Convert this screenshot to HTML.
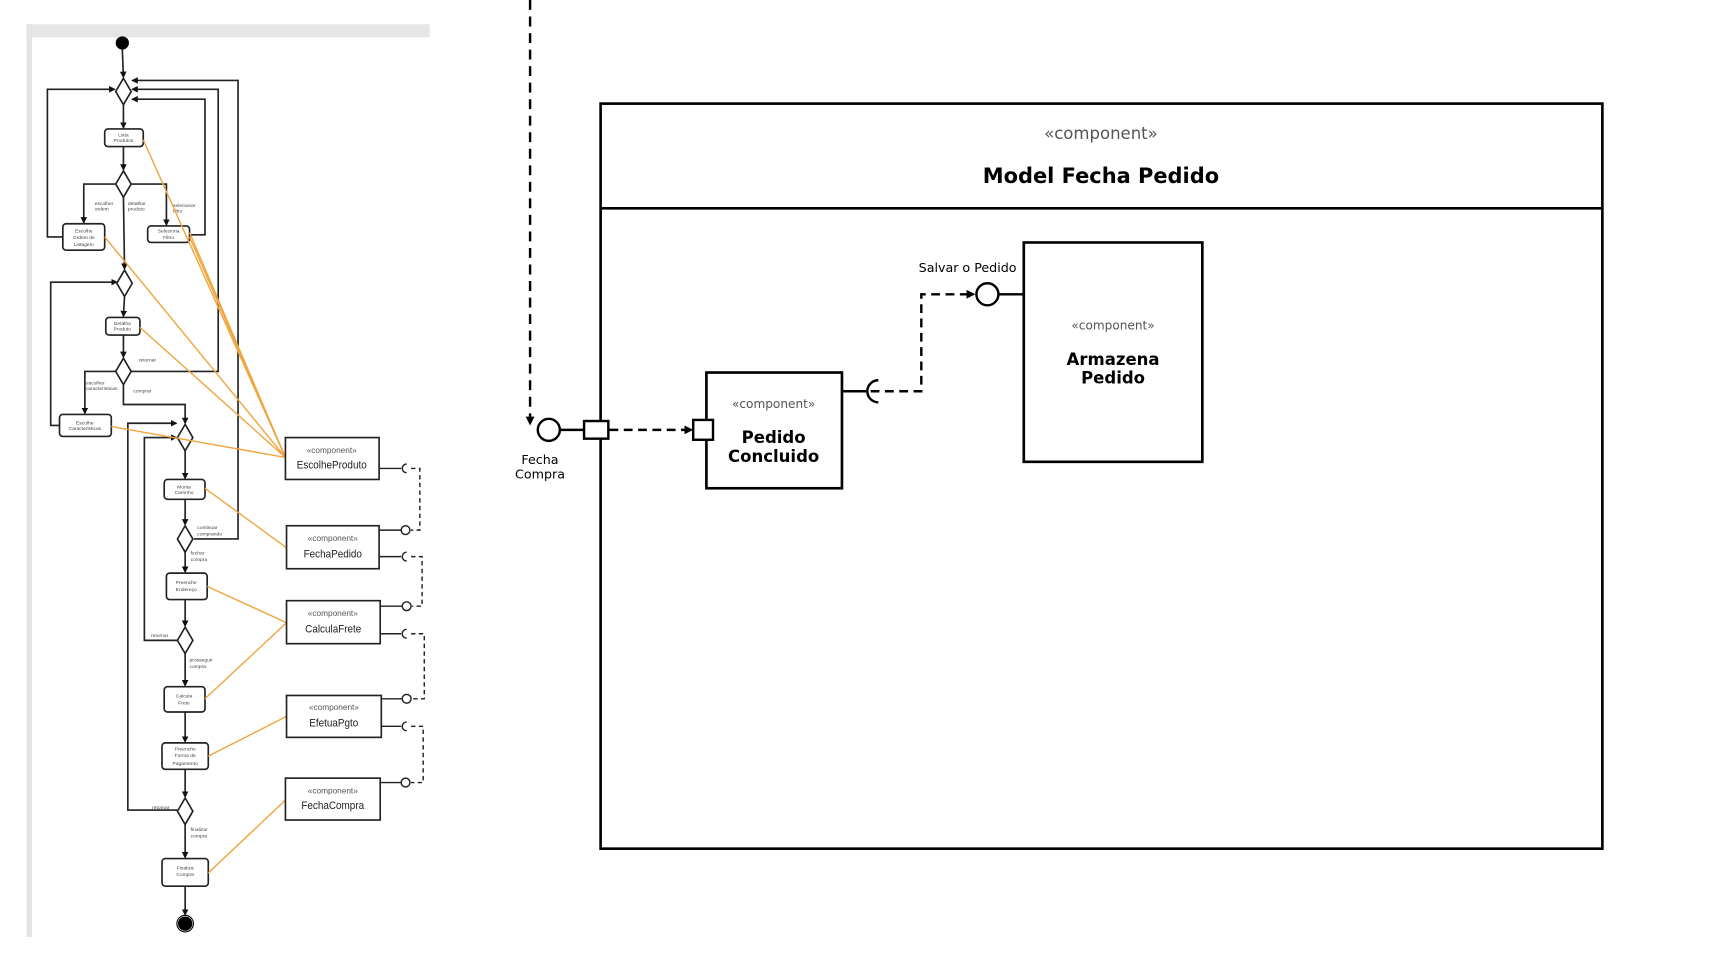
<!DOCTYPE html>
<html><head><meta charset="utf-8"><style>html,body{margin:0;padding:0;background:#fff;width:1728px;height:960px;overflow:hidden}svg{display:block}</style></head><body>
<svg width="1728" height="960" viewBox="0 0 1568 871" preserveAspectRatio="none" xmlns="http://www.w3.org/2000/svg" font-family="Liberation Sans, sans-serif">
<defs>
<marker id="a" markerWidth="8" markerHeight="8" refX="7" refY="4" orient="auto" markerUnits="userSpaceOnUse"><path d="M0,0 L8,4 L0,8z" fill="#000"/></marker>
<marker id="s" markerWidth="6" markerHeight="6" refX="5" refY="3" orient="auto" markerUnits="userSpaceOnUse"><path d="M0,0 L6,3 L0,6z" fill="#111"/></marker>
</defs>
<rect x="24" y="22" width="366" height="12" fill="#e6e6e6"/>
<rect x="24" y="22" width="5" height="828" fill="#e3e3e3"/>
<g stroke="#222" stroke-width="1.5" fill="none">
<line x1="111" y1="45" x2="112" y2="70" marker-end="url(#s)"/>
<line x1="112" y1="95" x2="112" y2="116" marker-end="url(#s)"/>
<line x1="112" y1="133" x2="112" y2="154" marker-end="url(#s)"/>
<line x1="112" y1="179" x2="113" y2="244" marker-end="url(#s)"/>
<line x1="113" y1="269" x2="112" y2="287" marker-end="url(#s)"/>
<line x1="112" y1="304" x2="112" y2="324" marker-end="url(#s)"/>
<polyline points="112,349 112,367 168,367 168,384" marker-end="url(#s)"/>
<line x1="168" y1="409" x2="168" y2="434" marker-end="url(#s)"/>
<line x1="168" y1="453" x2="168" y2="476" marker-end="url(#s)"/>
<line x1="168" y1="501" x2="168" y2="519" marker-end="url(#s)"/>
<line x1="168" y1="544" x2="168" y2="568" marker-end="url(#s)"/>
<line x1="168" y1="593" x2="168" y2="622" marker-end="url(#s)"/>
<line x1="168" y1="646" x2="168" y2="673" marker-end="url(#s)"/>
<line x1="168" y1="698" x2="168" y2="723" marker-end="url(#s)"/>
<line x1="168" y1="748" x2="168" y2="778" marker-end="url(#s)"/>
<line x1="168" y1="804" x2="168" y2="830" marker-end="url(#s)"/>
<polyline points="105,167 76,167 76,202" marker-end="url(#s)"/>
<polyline points="119,167 151,167 151,204" marker-end="url(#s)"/>
<polyline points="105,337 77,337 77,375" marker-end="url(#s)"/>
<polyline points="57,215 43,215 43,81 104,81" marker-end="url(#s)"/>
<polyline points="172,213 186,213 186,90 120,90" marker-end="url(#s)"/>
<polyline points="119,337 198,337 198,81 120,81" marker-end="url(#s)"/>
<polyline points="176,489 216,489 216,73 120,73" marker-end="url(#s)"/>
<polyline points="54,386 46,386 46,256 106,256" marker-end="url(#s)"/>
<polyline points="161,581 131,581 131,397 160,397" marker-end="url(#s)"/>
<polyline points="161,735 116,735 116,384 160,384" marker-end="url(#s)"/>
</g>
<circle cx="111" cy="39" r="6" fill="#000"/>
<circle cx="168" cy="838" r="6" fill="#000" stroke="#000" stroke-width="1"/><circle cx="168" cy="838" r="7.5" fill="none" stroke="#000" stroke-width="1"/>
<g fill="#fff" stroke="#222" stroke-width="1.5">
<path d="M112,71 L119,83 L112,95 L105,83z"/>
<path d="M112,155 L119,167 L112,179 L105,167z"/>
<path d="M113,245 L120,257 L113,269 L106,257z"/>
<path d="M112,325 L119,337 L112,349 L105,337z"/>
<path d="M168,385 L175,397 L168,409 L161,397z"/>
<path d="M168,477 L175,489 L168,501 L161,489z"/>
<path d="M168,569 L175,581 L168,593 L161,581z"/>
<path d="M168,724 L175,736 L168,748 L161,736z"/>
<rect x="95" y="117" width="35" height="16" rx="3"/>
<rect x="57" y="203" width="38" height="24" rx="3"/>
<rect x="134" y="205" width="38" height="15" rx="3"/>
<rect x="96" y="288" width="31" height="16" rx="3"/>
<rect x="54" y="376" width="47" height="20" rx="3"/>
<rect x="149" y="435" width="37" height="18" rx="3"/>
<rect x="151" y="520" width="37" height="24" rx="3"/>
<rect x="149" y="623" width="37" height="23" rx="3"/>
<rect x="147" y="674" width="42" height="24" rx="3"/>
<rect x="147" y="779" width="42" height="25" rx="3"/>
</g>
<g font-size="4.5" fill="#444" text-anchor="middle">
<text x="112" y="124">Lista</text><text x="112" y="129">Produtos</text>
<text x="76" y="211">Escolhe</text><text x="76" y="217">Ordem de</text><text x="76" y="223">Listagem</text>
<text x="153" y="211">Seleciona</text><text x="153" y="217">Filtro</text>
<text x="111" y="295">Detalha</text><text x="111" y="300">Produto</text>
<text x="77" y="385">Escolhe</text><text x="77" y="390">Caracteristicas</text>
<text x="167" y="443">Monta</text><text x="167" y="448">Carrinho</text>
<text x="169" y="530">Preenche</text><text x="169" y="536">Endereço</text>
<text x="167" y="633">Calcula</text><text x="167" y="639">Frete</text>
<text x="168" y="681">Preenche</text><text x="168" y="687">Forma de</text><text x="168" y="694">Pagamento</text>
<text x="168" y="789">Finaliza</text><text x="168" y="795">Compra</text>
</g>
<g font-size="4.5" fill="#444">
<text x="86" y="186">escolher</text><text x="86" y="191">ordem</text>
<text x="116" y="186">detalhar</text><text x="116" y="191">produto</text>
<text x="157" y="188">selecionar</text><text x="157" y="193">filtro</text>
<text x="126" y="328">retornar</text>
<text x="78" y="349">escolher</text><text x="78" y="354">caracteristicas</text>
<text x="121" y="356">comprar</text>
<text x="179" y="480">continuar</text><text x="179" y="486">comprando</text>
<text x="173" y="503">fechar</text><text x="173" y="509">compra</text>
<text x="137" y="578">retornar</text>
<text x="172" y="600">prosseguir</text><text x="172" y="606">compra</text>
<text x="138" y="734">retornar</text>
<text x="173" y="754">finalizar</text><text x="173" y="760">compra</text>
</g>
<g stroke="#f0a640" stroke-width="1.3" fill="none">
<line x1="130" y1="127" x2="259" y2="415"/>
<line x1="95" y1="215" x2="259" y2="415"/>
<line x1="172" y1="211" x2="259" y2="415"/>
<line x1="172" y1="215" x2="259" y2="415"/>
<line x1="127" y1="297" x2="259" y2="415"/>
<line x1="101" y1="387" x2="259" y2="415"/>
<line x1="186" y1="443" x2="260" y2="497"/>
<line x1="188" y1="532" x2="260" y2="565"/>
<line x1="186" y1="634" x2="260" y2="565"/>
<line x1="189" y1="686" x2="260" y2="650"/>
<line x1="189" y1="792" x2="259" y2="726"/>
</g>
<g fill="#fff" stroke="#222" stroke-width="1.5">
<rect x="259" y="397" width="85" height="38"/>
<rect x="260" y="477" width="84" height="39"/>
<rect x="260" y="545" width="85" height="39"/>
<rect x="260" y="631" width="86" height="38"/>
<rect x="259" y="706" width="86" height="38"/>
</g>
<g text-anchor="middle">
<g font-size="7.5" fill="#555"><text x="301" y="411">«component»</text><text x="302" y="491">«component»</text><text x="302" y="559">«component»</text><text x="303" y="644">«component»</text><text x="302" y="720">«component»</text></g>
<g font-size="10" fill="#222" transform="scale(0.9,1)"><text x="334.5" y="425">EscolheProduto</text><text x="335.5" y="506">FechaPedido</text><text x="336" y="574">CalculaFrete</text><text x="336.5" y="659">EfetuaPgto</text><text x="335.5" y="734">FechaCompra</text></g>
</g>
<g stroke="#222" stroke-width="1.3" fill="none">
<line x1="344" y1="425" x2="364" y2="425"/><path d="M369,421 A4,4 0 0 0 369,429"/>
<line x1="344" y1="481" x2="364" y2="481"/><circle cx="368" cy="481" r="4"/>
<line x1="344" y1="505" x2="364" y2="505"/><path d="M369,501 A4,4 0 0 0 369,509"/>
<line x1="345" y1="550" x2="365" y2="550"/><circle cx="369" cy="550" r="4"/>
<line x1="345" y1="575" x2="364" y2="575"/><path d="M369,571 A4,4 0 0 0 369,579"/>
<line x1="346" y1="634" x2="365" y2="634"/><circle cx="369" cy="634" r="4"/>
<line x1="346" y1="659" x2="364" y2="659"/><path d="M369,655 A4,4 0 0 0 369,663"/>
<line x1="345" y1="710" x2="364" y2="710"/><circle cx="368" cy="710" r="4"/>
<g stroke-dasharray="4,3"><polyline points="373,425 381,425 381,481 373,481"/><polyline points="373,505 383,505 383,550 374,550"/><polyline points="373,575 385,575 385,634 374,634"/><polyline points="373,659 384,659 384,710 373,710"/></g>
</g>
<g stroke="#000" fill="none">
<line x1="481" y1="0" x2="481" y2="385" stroke-width="2.2" stroke-dasharray="9,6" marker-end="url(#a)"/>
<rect x="545" y="94" width="909" height="676" stroke-width="2.4" fill="#fff"/>
<line x1="545" y1="189" x2="1454" y2="189" stroke-width="2.4"/>
<circle cx="498" cy="390" r="10" stroke-width="2.2" fill="#fff"/>
<line x1="508" y1="390" x2="530" y2="390" stroke-width="2.2"/>
<rect x="530" y="382" width="22" height="16" stroke-width="2.2" fill="#fff"/>
<line x1="553" y1="390" x2="628" y2="390" stroke-width="2.2" stroke-dasharray="8,5" marker-end="url(#a)"/>
<rect x="641" y="338" width="123" height="105" stroke-width="2.4" fill="#fff"/>
<rect x="629" y="381" width="18" height="18" stroke-width="2.2" fill="#fff"/>
<line x1="764" y1="355" x2="786" y2="355" stroke-width="2.2"/>
<path d="M797,345 A10,10 0 0 0 797,365" stroke-width="2.2"/>
<polyline points="790,355 836,355 836,267 884,267" stroke-width="2.2" stroke-dasharray="8,5" marker-end="url(#a)"/>
<circle cx="896" cy="267" r="10" stroke-width="2.2" fill="#fff"/>
<line x1="906" y1="267" x2="929" y2="267" stroke-width="2.2"/>
<rect x="929" y="220" width="162" height="199" stroke-width="2.4" fill="#fff"/>
</g>
<g text-anchor="middle" font-family="DejaVu Sans, sans-serif">
<text x="999" y="126" font-size="15" fill="#555">«component»</text>
<text x="999" y="166" font-size="19" font-weight="bold" fill="#000">Model Fecha Pedido</text>
<text x="702" y="370" font-size="11" fill="#555">«component»</text>
<text x="702" y="402" font-size="15" font-weight="bold">Pedido</text>
<text x="702" y="419" font-size="15" font-weight="bold">Concluido</text>
<text x="1010" y="299" font-size="11" fill="#555">«component»</text>
<text x="1010" y="331" font-size="15" font-weight="bold">Armazena</text>
<text x="1010" y="348" font-size="15" font-weight="bold">Pedido</text>
<text x="878" y="247" font-size="11.5">Salvar o Pedido</text>
<text x="490" y="421" font-size="11.5">Fecha</text>
<text x="490" y="434" font-size="11.5">Compra</text>
</g>
</svg>
</body></html>
